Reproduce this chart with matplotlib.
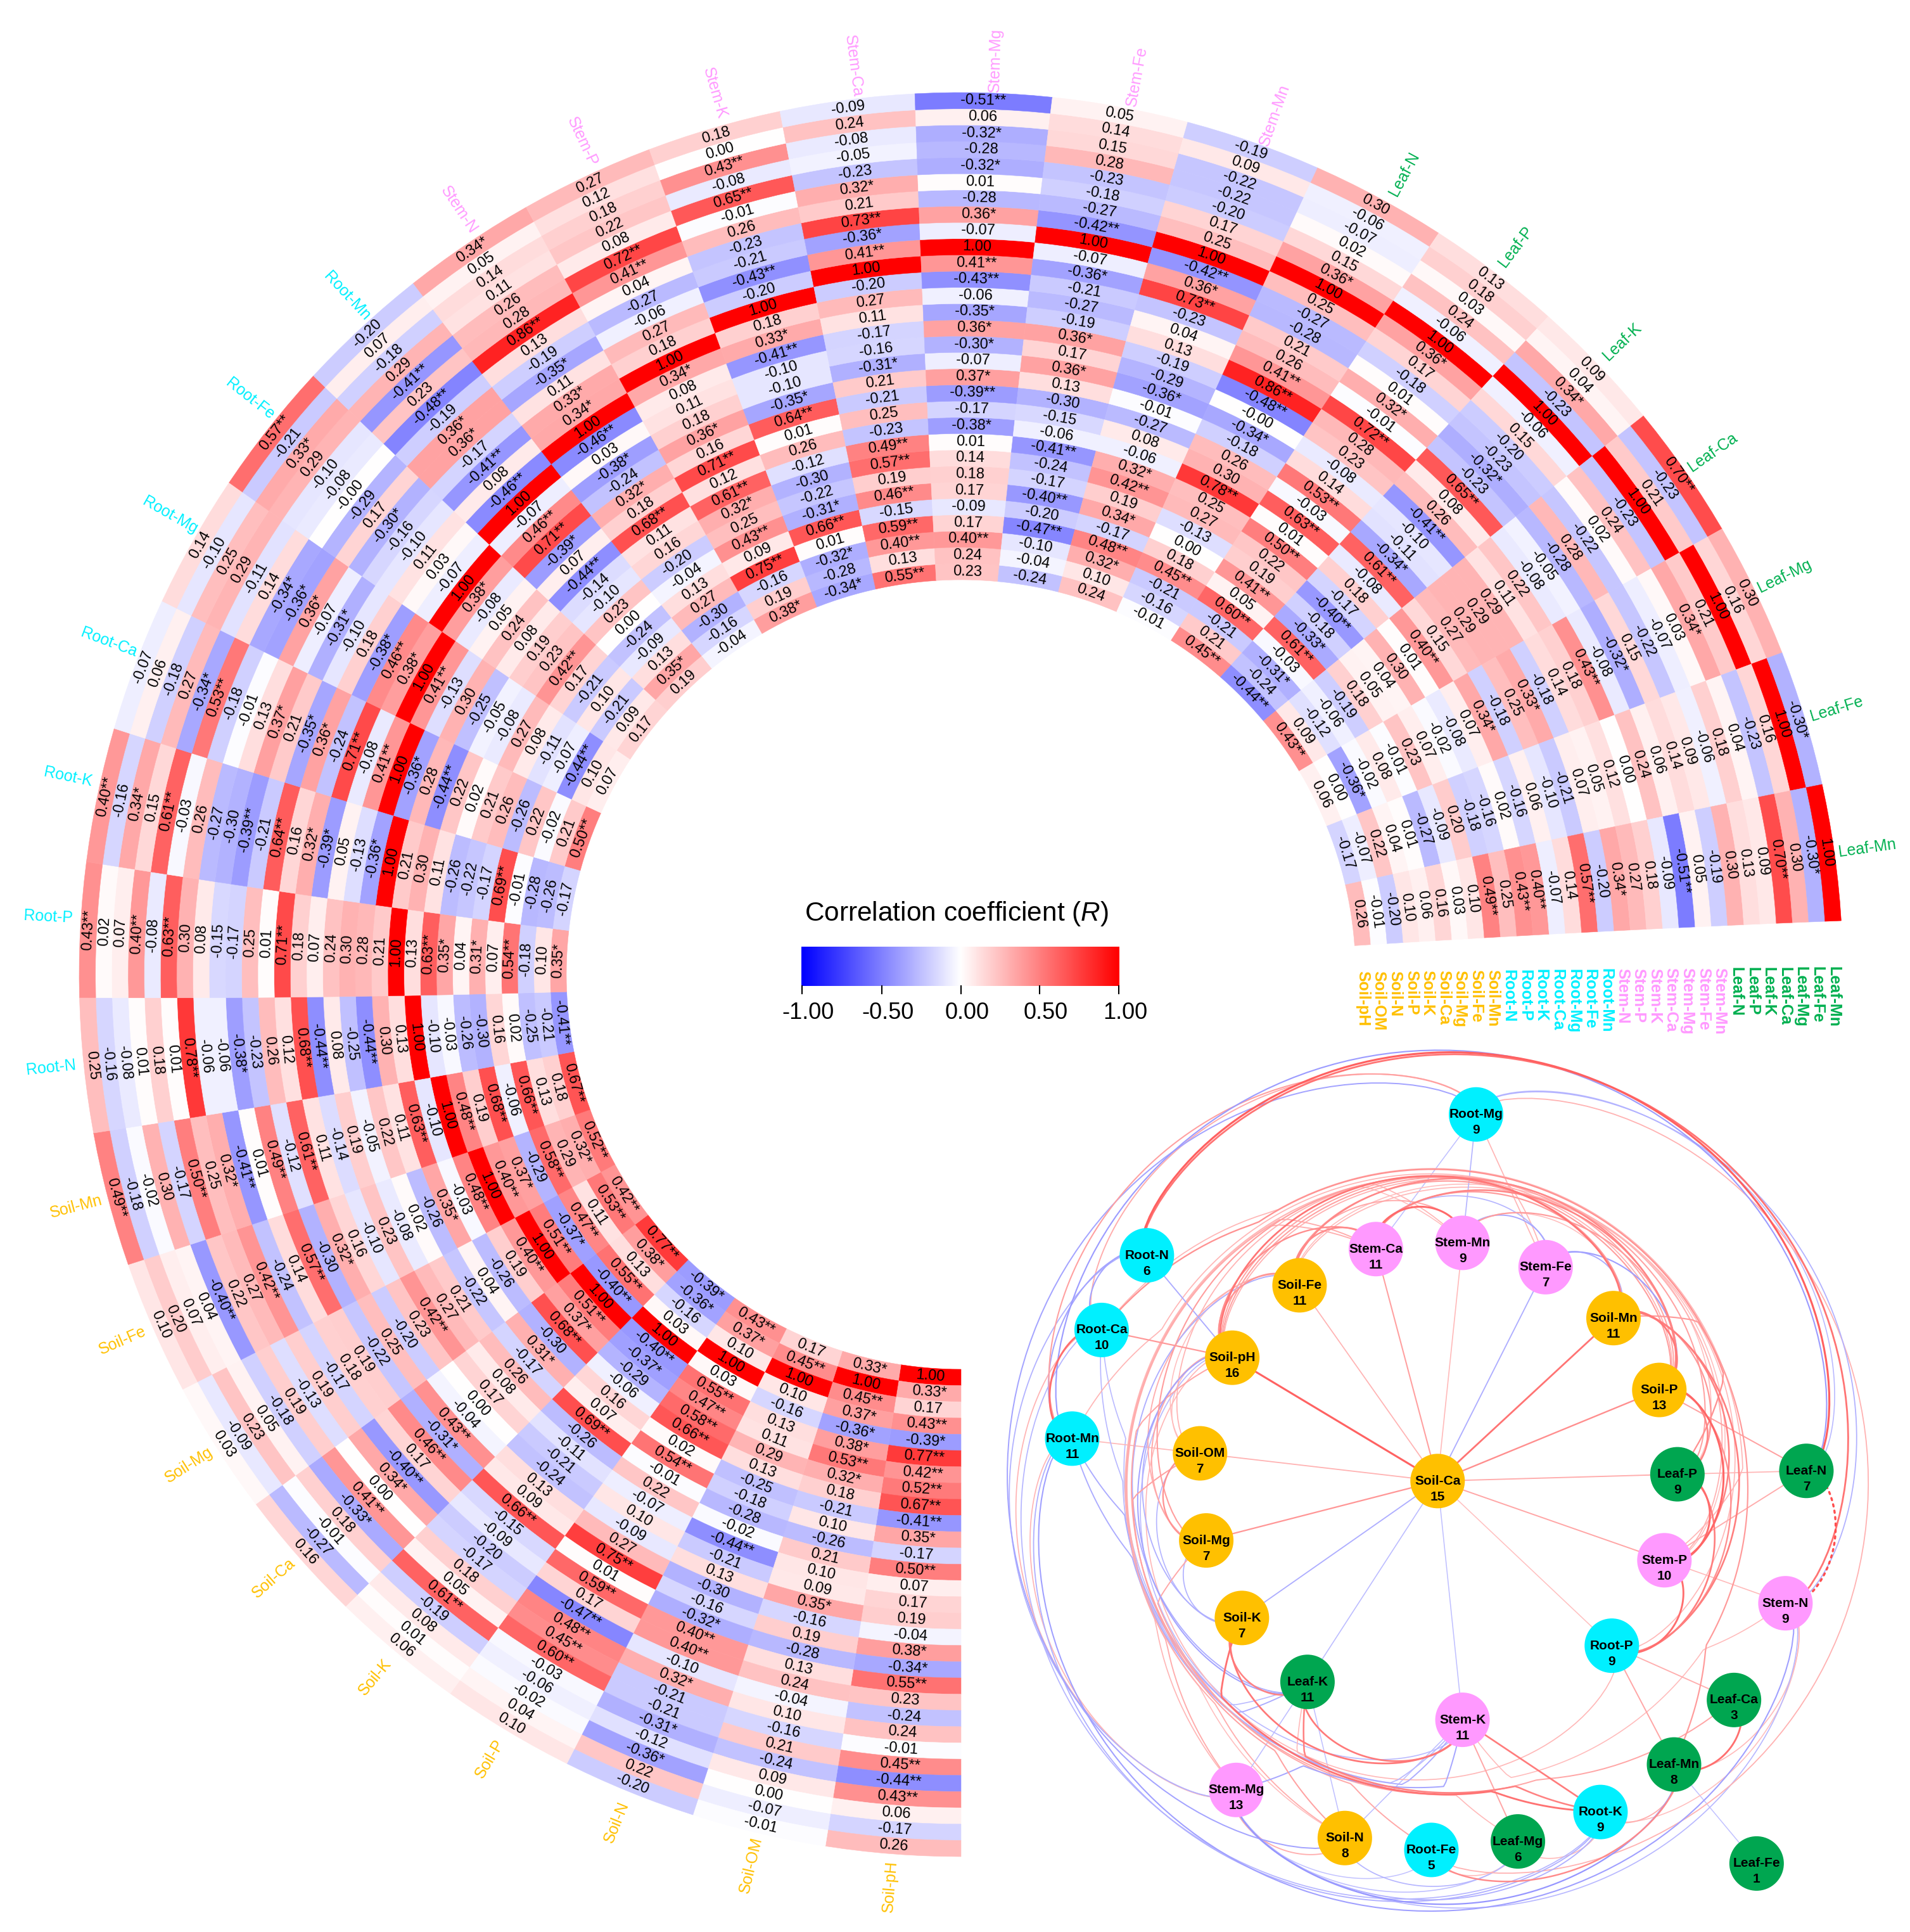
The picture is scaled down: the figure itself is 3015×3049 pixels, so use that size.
"""Circular correlation heatmap of soil/plant nutrients plus the network of significant pairs."""
import numpy as np
import matplotlib
matplotlib.use("Agg")
from matplotlib import pyplot as plt
from matplotlib.collections import LineCollection, PolyCollection
from matplotlib.colors import LinearSegmentedColormap, Normalize
from matplotlib.patches import Circle

plt.rcParams["font.family"] = ["Liberation Sans", "DejaVu Sans"]
plt.rcParams["mathtext.fontset"] = "custom"
plt.rcParams["mathtext.it"] = "Liberation Sans:italic"
plt.rcParams["mathtext.rm"] = "Liberation Sans"

labels = ["Soil-pH", "Soil-OM", "Soil-N", "Soil-P", "Soil-K", "Soil-Ca", "Soil-Mg", "Soil-Fe", "Soil-Mn",
          "Root-N", "Root-P", "Root-K", "Root-Ca", "Root-Mg", "Root-Fe", "Root-Mn",
          "Stem-N", "Stem-P", "Stem-K", "Stem-Ca", "Stem-Mg", "Stem-Fe", "Stem-Mn",
          "Leaf-N", "Leaf-P", "Leaf-K", "Leaf-Ca", "Leaf-Mg", "Leaf-Fe", "Leaf-Mn"]

# each column from its diagonal cell outward; the matrix is symmetric
soil_ph = "1.00 0.33* 0.17 0.43** -0.39* 0.77** 0.42** 0.52** 0.67** -0.41** 0.35* -0.17 0.50** 0.07 0.17 0.19 -0.04 0.38* -0.34* 0.55** 0.23 -0.24 0.24 -0.01 0.45** -0.44** 0.43** 0.06 -0.17 0.26".split()
soil_om = "1.00 0.45** 0.37* -0.36* 0.38* 0.53** 0.32* 0.18 -0.21 0.10 -0.26 0.21 0.10 0.09 0.35* -0.16 0.19 -0.28 0.13 0.24 -0.04 0.10 -0.16 0.21 -0.24 0.09 0.00 -0.07 -0.01".split()
soil_n = "1.00 0.10 -0.16 0.13 0.11 0.29 0.13 -0.25 -0.18 -0.28 -0.02 -0.44** -0.21 0.13 -0.30 -0.16 -0.32* 0.40** 0.40** -0.10 0.32* -0.21 -0.21 -0.31* -0.12 -0.36* 0.22 -0.20".split()
soil_p = "1.00 0.03 0.55** 0.47** 0.58** 0.66** 0.02 0.54** -0.01 0.22 -0.07 0.10 -0.09 0.27 0.75** 0.01 0.59** 0.17 -0.47** 0.48** 0.45** 0.60** -0.03 -0.06 -0.02 0.04 0.10".split()
soil_k = "1.00 -0.40** -0.37* -0.29 -0.06 0.16 0.07 0.69** -0.26 -0.11 -0.21 -0.24 0.13 0.09 0.66** -0.15 -0.09 -0.20 -0.17 0.18 0.05 0.61** -0.19 0.08 0.01 0.06".split()
soil_ca = "1.00 0.51** 0.37* 0.68** -0.30 0.31* -0.17 0.26 0.08 0.17 0.00 -0.04 0.43** -0.31* 0.46** 0.17 -0.40** 0.34* 0.00 0.41** -0.33* 0.18 -0.01 -0.27 0.16".split()
soil_mg = "1.00 0.40** 0.19 -0.26 0.04 -0.22 0.21 0.27 0.42** 0.23 -0.20 0.25 -0.22 0.19 0.18 -0.17 0.19 -0.13 0.19 -0.18 0.05 0.23 -0.09 0.03".split()
soil_fe = "1.00 0.48** -0.03 0.35* -0.26 0.02 -0.08 0.23 -0.10 0.16 0.32* -0.30 0.57** 0.14 -0.24 0.42** 0.27 0.22 -0.40** 0.04 0.07 0.20 0.10".split()
soil_mn = "1.00 -0.10 0.63** 0.11 0.22 -0.05 0.19 -0.14 0.11 0.61** -0.12 0.49** 0.01 -0.41** 0.32* 0.25 0.50** -0.17 0.30 -0.02 -0.18 0.49**".split()
root_n = "1.00 0.13 0.30 -0.44** -0.25 0.08 -0.44** 0.68** 0.12 0.26 -0.23 -0.38* -0.06 -0.06 0.78** 0.01 0.18 0.01 -0.08 -0.16 0.25".split()
root_p = "1.00 0.21 0.28 0.30 0.24 0.07 0.18 0.71** 0.01 0.25 -0.17 -0.15 0.08 0.30 0.63** -0.08 0.40** 0.07 0.02 0.43**".split()
root_k = "1.00 -0.36* -0.13 0.05 -0.39* 0.32* 0.16 0.64** -0.21 -0.39** -0.30 -0.27 0.26 -0.03 0.61** 0.15 0.34* -0.16 0.40**".split()
root_ca = "1.00 0.41** -0.08 0.71** -0.24 0.36* -0.35* 0.21 0.37* 0.13 -0.01 -0.18 0.53** -0.34* 0.27 -0.18 0.06 -0.07".split()
root_mg = "1.00 0.38* 0.46** -0.38* 0.18 -0.10 -0.31* -0.07 0.36* -0.36* -0.34* 0.14 -0.11 0.29 0.25 -0.10 0.14".split()
root_fe = "1.00 -0.07 0.03 0.11 -0.10 -0.16 -0.30* 0.17 -0.29 -0.00 -0.08 -0.10 0.29 0.33* -0.21 0.57**".split()
root_mn = "1.00 -0.46** 0.08 -0.41** -0.17 0.36* 0.36* -0.19 -0.48** 0.23 -0.41** 0.29 -0.18 0.07 -0.20".split()
stem_n = "1.00 0.34* 0.33* 0.11 -0.35* -0.19 0.13 0.86** 0.28 0.26 0.11 0.14 0.05 0.34*".split()
stem_p = "1.00 0.18 0.27 -0.06 -0.27 0.04 0.41** 0.72** 0.08 0.22 0.18 0.12 0.27".split()
stem_k = "1.00 -0.20 -0.43** -0.21 -0.23 0.26 -0.01 0.65** -0.08 0.43** 0.00 0.18".split()
stem_ca = "1.00 0.41** -0.36* 0.73** 0.21 0.32* -0.23 -0.05 -0.08 0.24 -0.09".split()
stem_mg = "1.00 -0.07 0.36* -0.28 0.01 -0.32* -0.28 -0.32* 0.06 -0.51**".split()
stem_fe = "1.00 -0.42** -0.27 -0.18 -0.23 0.28 0.15 0.14 0.05".split()
stem_mn = "1.00 0.25 0.17 -0.20 -0.22 -0.22 0.09 -0.19".split()
leaf_n = "1.00 0.36* 0.15 0.02 -0.07 -0.06 0.30".split()
leaf_p = "1.00 -0.06 0.24 0.03 0.18 0.13".split()
leaf_k = "1.00 -0.23 0.34* 0.04 0.09".split()
leaf_ca = "1.00 0.21 -0.23 0.70**".split()
leaf_mg = "1.00 0.16 0.30".split()
leaf_fe = "1.00 -0.30*".split()
leaf_mn = "1.00".split()

columns = [soil_ph, soil_om, soil_n, soil_p, soil_k, soil_ca, soil_mg, soil_fe, soil_mn,
           root_n, root_p, root_k, root_ca, root_mg, root_fe, root_mn,
           stem_n, stem_p, stem_k, stem_ca, stem_mg, stem_fe, stem_mn,
           leaf_n, leaf_p, leaf_k, leaf_ca, leaf_mg, leaf_fe, leaf_mn]

# number of significant links printed in each network node
node_degree = {"Root-Mg": 9, "Root-N": 6, "Root-Ca": 10, "Root-Mn": 11, "Stem-Ca": 11, "Stem-Mn": 9,
               "Stem-Fe": 7, "Soil-Fe": 11, "Soil-Mn": 11, "Soil-pH": 16, "Soil-P": 13, "Soil-OM": 7,
               "Soil-Ca": 15, "Leaf-P": 9, "Leaf-N": 7, "Soil-Mg": 7, "Stem-P": 10, "Stem-N": 9,
               "Soil-K": 7, "Root-P": 9, "Leaf-K": 11, "Leaf-Ca": 3, "Stem-K": 11, "Leaf-Mn": 8,
               "Stem-Mg": 13, "Root-K": 9, "Soil-N": 8, "Root-Fe": 5, "Leaf-Mg": 6, "Leaf-Fe": 1}

# network layout, pixels inside the network panel
node_pos = {"Root-Mg": (840, 133), "Root-N": (258, 382), "Root-Ca": (178, 514), "Root-Mn": (126, 706),
            "Stem-Ca": (663, 371), "Stem-Mn": (816, 360), "Stem-Fe": (963, 403), "Soil-Fe": (528, 435),
            "Soil-Mn": (1083, 493), "Soil-pH": (409, 563), "Soil-P": (1164, 620), "Soil-OM": (352, 732),
            "Soil-Ca": (772, 781), "Leaf-P": (1196, 769), "Leaf-N": (1424, 763), "Soil-Mg": (363, 886),
            "Stem-P": (1173, 921), "Stem-N": (1387, 997), "Soil-K": (426, 1023), "Root-P": (1080, 1072),
            "Leaf-K": (542, 1136), "Leaf-Ca": (1296, 1168), "Stem-K": (816, 1203), "Leaf-Mn": (1190, 1282),
            "Stem-Mg": (416, 1327), "Root-K": (1060, 1366), "Soil-N": (608, 1412), "Root-Fe": (761, 1433),
            "Leaf-Mg": (914, 1418), "Leaf-Fe": (1336, 1457)}

group_colors = {"Soil": "#FFC000", "Root": "#00F0FF", "Stem": "#FF99FF", "Leaf": "#00B050"}
node_colors = {"Soil": "#FFC000", "Root": "#00F0FF", "Stem": "#FF99FF", "Leaf": "#00A650"}

n = len(labels)
text_m = [[""] * n for _ in range(n)]
for j, col in enumerate(columns):
    for k, s in enumerate(col):
        text_m[j][j + k] = s
        text_m[j + k][j] = s
val_m = np.array([[float(s.rstrip("*")) for s in row] for row in text_m])

cmap = LinearSegmentedColormap.from_list("bwr2", ["#0000FF", "#FFFFFF", "#FF0000"])
norm = Normalize(-1, 1)

W, H = 3015, 3049
fig = plt.figure(figsize=(W / 100, H / 100), dpi=100)
ax = fig.add_axes([0, 0, 1, 1])
ax.set_axis_off()

# sector boundaries are not quite even in the source, so interpolate measured knots
KNOT_I = [0, 10, 20, 30]
KNOT_IN = [180, 267.5, 356.4, 445.8]
KNOT_OUT = [180, 268.5, 357.0, 446.5]
R_INNER, R_OUTER = 623, 1392
CX0, CY0 = 1517, 1538


def ring_point(col, t):
    th = np.radians((1 - t) * np.interp(col, KNOT_I, KNOT_IN) + t * np.interp(col, KNOT_I, KNOT_OUT))
    r = R_INNER + t * (R_OUTER - R_INNER)
    return CX0 + r * np.sin(th), CY0 - r * np.cos(th)


polys, cell_vals = [], []
for j in range(n):
    for i in range(n):
        t0, t1 = i / n, (i + 1) / n
        cs = np.linspace(j, j + 1, 8)
        low = [ring_point(c, t0) for c in cs]
        high = [ring_point(c, t1) for c in cs[::-1]]
        polys.append(low + high)
        cell_vals.append(val_m[i, j])
coll = PolyCollection(polys, array=np.array(cell_vals), cmap=cmap, norm=norm, edgecolors="face", linewidths=0.4)
ax.add_collection(coll)

for j in range(n):
    mid = np.interp(j + 0.5, KNOT_I, KNOT_OUT)
    rot = 180 - mid if mid < 270 else 360 - mid
    for i in range(n):
        x, y = ring_point(j + 0.5, (i + 0.5) / n)
        ax.text(x, y, text_m[i][j], fontsize=17, color="black", rotation=rot,
                rotation_mode="anchor", ha="center", va="center")
    # sector label outside the rings; root and stem labels sit slightly clockwise of the sector centre
    nudge = 0.07 if 10 <= j <= 23 else 0.0
    x, y = ring_point(j + 0.5 + nudge, 1 + 52 / (R_OUTER - R_INNER))
    lrot = 270 - mid if mid <= 360 else 450 - mid
    ax.text(x, y, labels[j], fontsize=18, color=group_colors[labels[j][:4]], rotation=lrot,
            rotation_mode="anchor", ha="center", va="center")

# vertical key under the open end of the rings
for j, xpos in enumerate(np.linspace(2151, 2894, n)):
    ax.text(xpos, 1532 - 7 * j / (n - 1), labels[j], fontsize=18, fontweight="bold",
            color=group_colors[labels[j][:4]], rotation=-90, ha="center", va="top")

# colour bar
ax.imshow(np.linspace(-1, 1, 256)[None, :], extent=(1265, 1767, 1556, 1494), cmap=cmap, norm=norm,
          aspect="auto", interpolation="bilinear", zorder=2)
for tick, tx in zip([-1.0, -0.5, 0.0, 0.5, 1.0], [1266, 1392, 1517, 1641, 1766]):
    ax.plot([tx, tx], [1556, 1568], color="black", lw=1.5, zorder=2)
    ax.text(tx + 10, 1598, f"{tick:.2f}", fontsize=26, ha="center", va="center")
ax.text(1510, 1442, r"Correlation coefficient ($\mathit{R}$)", fontsize=30.5, ha="center", va="center")

# network panel
NET_X, NET_Y, NET_K = 1580, 1640, 1.12


def net_xy(name):
    zx, zy = node_pos[name]
    return NET_X + zx / NET_K, NET_Y + zy / NET_K


CX, CY = net_xy("Soil-Ca")
R_IN, R_OUT = 379, 581
LIM_IN, LIM_OUT = 482, 680


def polar(name):
    x, y = net_xy(name)
    return np.hypot(x - CX, y - CY), np.arctan2(y - CY, x - CX)


def edge_path(a, b):
    ra, ta = polar(a)
    rb, tb = polar(b)
    pa, pb = net_xy(a), net_xy(b)
    if a == "Soil-Ca" or b == "Soil-Ca" or a == "Leaf-Fe" or b == "Leaf-Fe":
        return [pa, pb]
    d = (tb - ta + np.pi) % (2 * np.pi) - np.pi
    s = np.linspace(0, 1, 90)
    ang = ta + d * s
    same_in = ra < 480 and rb < 480
    same_out = ra > 480 and rb > 480
    if same_in or same_out:
        lim = LIM_IN if same_in else LIM_OUT
        base = R_IN if same_in else R_OUT
        peak = base + (lim - base) * min(1, (abs(d) / np.radians(100)) ** 0.4)
        rad = base + (peak - base) * np.sin(np.pi * s) ** 0.45
    else:
        if abs(d) < np.radians(32):
            return [pa, pb]
        # rise from the inner ring, sweep along its hull, end on the outer ring
        u = s if ra < rb else 1 - s
        rad = np.interp(u, [0, 0.12, 0.8, 1], [R_IN, LIM_IN, LIM_IN + 15, R_OUT])
    return np.column_stack([CX + rad * np.cos(ang), CY + rad * np.sin(ang)])


edges = []
for i in range(n):
    for j in range(i + 1, n):
        if "*" in text_m[i][j]:
            edges.append((abs(val_m[i, j]), val_m[i, j], labels[i], labels[j]))
edges.sort(key=lambda e: e[0])
paths = [edge_path(e[2], e[3]) for e in edges]
# links are drawn a little paler than the cells of the same value
edge_colors = [cmap(norm(0.8 * e[1])) for e in edges]
edge_widths = [1.1 + 2.4 * max(0, e[0] - 0.3) for e in edges]
edge_styles = [(0, (1, 2)) if (e[2], e[3]) == ("Stem-N", "Leaf-N") else "solid" for e in edges]
ax.add_collection(LineCollection(paths, colors=edge_colors, linewidths=edge_widths, linestyles=edge_styles,
                                 zorder=3, capstyle="round"))

for name, degree in node_degree.items():
    x, y = net_xy(name)
    ax.add_patch(Circle((x, y), 43, facecolor=node_colors[name[:4]], edgecolor="none", zorder=4))
    ax.text(x, y, name, fontsize=15, fontweight="bold", ha="center", va="center", zorder=5)
    ax.text(x, y + 25, str(degree), fontsize=15, fontweight="bold", ha="center", va="center", zorder=5)

ax.set_xlim(0, W)
ax.set_ylim(H, 0)
fig.savefig("out.png", dpi=100)
